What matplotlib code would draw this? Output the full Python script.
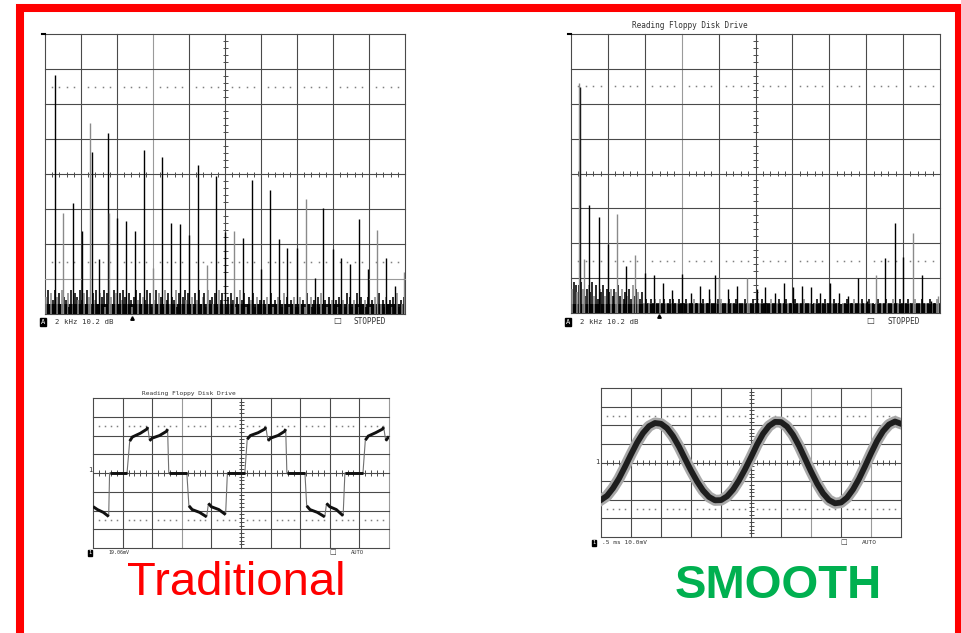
import numpy as np
import matplotlib.pyplot as plt
from matplotlib.patches import Rectangle

W, H = 961, 633

# ---- top left spectrum: harmonic lines (x in divisions, height in divisions)
tl_peak_x = [0.27, 0.51, 0.77, 1.02, 1.26, 1.30, 1.51, 1.76, 1.78, 2.01, 2.26, 2.50,
             2.75, 3.00, 3.26, 3.51, 3.76, 4.00, 4.25, 4.50, 4.75, 5.01, 5.24,
             5.49, 5.74, 5.99, 6.24, 6.49, 6.73, 6.99, 7.24, 7.49, 7.73, 7.99,
             8.23, 8.47, 8.73, 8.98, 9.22, 9.47, 9.72, 9.97]
tl_peak_h = [6.83, 2.88, 3.17, 2.37, 5.46, 4.63, 1.57, 5.17, 2.88, 2.74, 2.66, 2.37,
             4.70, 1.31, 4.49, 2.60, 2.57, 2.27, 4.26, 1.40, 3.95, 2.34, 2.37,
             2.18, 3.83, 1.30, 3.54, 2.14, 1.90, 1.90, 3.30, 1.04, 3.02, 1.86,
             1.60, 1.43, 2.71, 1.30, 2.40, 1.60, 0.80, 1.20]
tl_peak_c = "kgkkgkkkgkkkkgkkkkkgkkgkkkkkkkgkkkkkkkgkkg"
# noise floor, tenths of a division, 200 samples across the screen
tl_noise = ("57364756375462736547" "46375264736572645376" "36475364257463547362"
            "47365274635472635746" "35264735627453627463" "25364253746235462534"
            "34253624354263524352" "25342635243526342534" "34253426352436253425"
            "24352634253425362435")
tl_floor = 0.30

# ---- top right spectrum
tr_peak_x = [0.25, 0.22, 0.36, 0.50, 0.75, 1.00, 1.24, 1.49, 1.74, 2.01, 2.25, 2.50,
             2.75, 3.00, 3.25, 3.49, 3.75, 3.90, 4.02, 4.26, 4.50, 4.76, 5.03,
             5.27, 5.52, 5.77, 6.02, 6.26, 6.51, 6.76, 7.01, 7.26, 7.52, 7.77,
             8.02, 8.27, 8.52, 8.77, 9.01, 9.26, 9.51, 9.76, 9.94]
tr_peak_h = [6.49, 6.60, 1.55, 3.09, 2.74, 1.97, 2.83, 1.34, 1.66, 1.15, 1.09, 0.85,
             0.66, 1.11, 0.56, 0.77, 0.68, 1.10, 1.00, 0.68, 0.77, 1.00, 0.68,
             0.75, 0.58, 0.85, 0.75, 0.77, 0.75, 0.56, 0.85, 0.56, 0.49, 1.00,
             0.33, 1.10, 1.57, 2.58, 1.60, 2.30, 1.10, 0.35, 0.48]
tr_peak_c = "kggkkkgkgkkkkkkkkkgkkgkkkkkkkkkkkkkgkkkgkkg"
tr_noise = ("79868975786958476857" "67576857465748576463" "43343433434334343343"
            "33433343333433343334" "34333433343333433343" "33343333433343334333"
            "34333343330334333433" "33433303343334333433" "34330343334333433343"
            "33433343334333433343")
tr_floor = 0.27

# ---- bottom left scope: square-ish trace, segments of (time div, volts div)
bl_segments = [
    [(0.00, -1.79), (0.15, -1.95), (0.35, -2.10), (0.53, -2.32)],
    [(0.56, 0.0), (1.15, 0.0)],
    [(1.24, 1.70), (1.33, 1.92), (1.60, 2.12), (1.82, 2.34), (1.85, 2.45)],
    [(1.91, 1.72), (2.00, 1.86), (2.25, 2.00), (2.48, 2.22), (2.52, 2.34)],
    [(2.56, 0.0), (3.17, 0.0)],
    [(3.24, -1.75), (3.35, -1.95), (3.60, -2.10), (3.84, -2.34)],
    [(3.90, -1.62), (4.00, -1.80), (4.25, -1.95), (4.48, -2.22)],
    [(4.54, 0.0), (5.13, 0.0)],
    [(5.21, 1.80), (5.32, 2.00), (5.58, 2.15), (5.80, 2.34), (5.84, 2.45)],
    [(5.91, 1.72), (6.00, 1.86), (6.25, 2.00), (6.47, 2.22), (6.51, 2.34)],
    [(6.55, 0.0), (7.16, 0.0)],
    [(7.22, -1.75), (7.33, -1.95), (7.58, -2.10), (7.83, -2.34)],
    [(7.89, -1.62), (8.00, -1.80), (8.22, -1.95), (8.45, -2.28)],
    [(8.51, 0.0), (9.12, 0.0)],
    [(9.20, 1.75), (9.30, 1.97), (9.55, 2.15), (9.78, 2.34), (9.82, 2.45)],
    [(9.89, 1.72), (9.95, 1.85), (10.0, 1.95)],
]

# ---- bottom right scope: sine-like trace, read every 0.2 division
br_t = [0.0, 0.2, 0.4, 0.6, 0.8, 1.0, 1.2, 1.4, 1.6, 1.8, 2.0, 2.2, 2.4, 2.6,
        2.8, 3.0, 3.2, 3.4, 3.6, 3.8, 4.0, 4.2, 4.4, 4.6, 4.8, 5.0, 5.2, 5.4,
        5.6, 5.8, 6.0, 6.2, 6.4, 6.6, 6.8, 7.0, 7.2, 7.4, 7.6, 7.8, 8.0, 8.2,
        8.4, 8.6, 8.8, 9.0, 9.2, 9.4, 9.6, 9.8, 10.0]
br_v = [-2.01, -1.79, -1.38, -0.86, -0.23, 0.43, 1.06, 1.58, 1.95, 2.12, 2.08,
        1.84, 1.41, 0.85, 0.20, -0.43, -1.01, -1.50, -1.85, -2.03, -2.02, -1.82,
        -1.46, -0.96, -0.37, 0.28, 0.96, 1.54, 1.96, 2.18, 2.17, 1.93, 1.49,
        0.90, 0.21, -0.48, -1.12, -1.65, -2.02, -2.19, -2.15, -1.89, -1.45,
        -0.88, -0.21, 0.49, 1.15, 1.68, 2.04, 2.20, 2.08]

GRID = '#4a4a4a'
LIGHT = '#9a9a9a'
GRAY = '#8a8a8a'
MONO = 'DejaVu Sans Mono'


def px_axes(fig, x0, y0, x1, y1):
    return fig.add_axes([x0 / W, 1 - y1 / H, (x1 - x0) / W, (y1 - y0) / H])


def ftext(fig, x, y, s, **kw):
    fig.text(x / W, 1 - y / H, s, **kw)


def scope_grid(ax, ymin, ymax, yc, pxx, pxy, light_cols=(), light_rows=()):
    ax.set_xlim(0, 10)
    ax.set_ylim(ymin, ymax)
    ax.axis('off')
    for i in range(11):
        ax.plot([i, i], [ymin, ymax], color=LIGHT if i in light_cols else GRID,
                lw=0.8, clip_on=False, zorder=1)
    for j in range(ymin, ymax + 1):
        ax.plot([0, 10], [j, j], color=LIGHT if j in light_rows else GRID,
                lw=0.8, clip_on=False, zorder=1)
    minor = [v for v in np.arange(0.2, 10, 0.2) if abs(v - round(v)) > 0.05]
    dy = 2.5 / pxy
    dx = 2.5 / pxx
    ax.vlines(minor, yc - dy, yc + dy, color=GRID, lw=0.7, zorder=1)
    yminor = [v for v in np.arange(ymin + 0.2, ymax, 0.2) if abs(v - round(v)) > 0.05]
    ax.hlines(yminor, 5 - dx, 5 + dx, color=GRID, lw=0.7, zorder=1)
    for yd in (yc - 2.5, yc + 2.5):
        ax.plot(minor, [yd] * len(minor), ls='none', marker='s', ms=1.1,
                mew=0, color='#808080', zorder=1)


def draw_spectrum(ax, px, ph, pc, noise, floor):
    n = len(noise)
    nx = (np.arange(n) + 0.5) * 10 / n
    nh = [int(c) / 10 for c in noise]
    ncol = ['black' if i % 3 else GRAY for i in range(n)]
    ax.fill_between([0, 10], 0, floor, color='#141414', lw=0, zorder=2)
    ax.vlines(nx, 0, nh, colors=ncol, lw=1.15, zorder=2)
    cols = ['black' if c == 'k' else GRAY for c in pc]
    ax.vlines(px, 0, ph, colors=cols, lw=1.0, zorder=3)


fig = plt.figure(figsize=(W / 100, H / 100), dpi=100)

# red frame
fig.patches.append(Rectangle((20 / W, -0.1), 938.5 / W, 1.1 - 8.5 / H,
                             transform=fig.transFigure, fill=False,
                             edgecolor='#ff0000', lw=5.8))

# top left spectrum
ax1 = px_axes(fig, 45, 34, 405, 314)
scope_grid(ax1, 0, 8, 4, 36, 35, light_cols=(3,), light_rows=(1,))
draw_spectrum(ax1, tl_peak_x, tl_peak_h, tl_peak_c, tl_noise, tl_floor)
ax1.plot([-0.08, 0], [8, 8], color='black', lw=1.5, clip_on=False)
ax1.plot([2.42], [-0.1], marker='^', ms=2.5, color='black', clip_on=False)

# top right spectrum
ax2 = px_axes(fig, 571, 34, 940, 313)
scope_grid(ax2, 0, 8, 4, 37, 35, light_cols=(3,))
draw_spectrum(ax2, tr_peak_x, tr_peak_h, tr_peak_c, tr_noise, tr_floor)
ax2.plot([-0.08, 0], [8, 8], color='black', lw=1.5, clip_on=False)
ax2.plot([2.38], [-0.1], marker='^', ms=2.5, color='black', clip_on=False)

# bottom left scope
ax3 = px_axes(fig, 93, 398, 389, 548)
scope_grid(ax3, -4, 4, 0, 29.6, 18.7, light_cols=(3, 10))
all_t = [p[0] for seg in bl_segments for p in seg]
all_v = [p[1] for seg in bl_segments for p in seg]
ax3.plot(all_t, all_v, color='#707070', lw=0.8, zorder=3)
for seg in bl_segments:
    ax3.plot([p[0] for p in seg], [p[1] for p in seg], color='#111111',
             lw=2.1, solid_capstyle='butt', solid_joinstyle='miter', zorder=4)

# bottom right scope
ax4 = px_axes(fig, 601, 388, 901, 537)
scope_grid(ax4, -4, 4, 0, 30, 18.6, light_cols=(7, 9))
ax4.plot(br_t, br_v, color='#a8a8a8', lw=8, zorder=3, solid_joinstyle='round')
ax4.plot(br_t, br_v, color='#1e1e1e', lw=4.2, zorder=4, solid_joinstyle='round')

# screen annotations
tk = dict(family=MONO, color='#333333', va='center')
ftext(fig, 632, 26, 'Reading Floppy Disk Drive', size=5.6, **tk)
ftext(fig, 142, 393, 'Reading Floppy Disk Drive', size=4.5, **tk)

box = dict(boxstyle='square,pad=0.12', fc='black', ec='black')
for xa, xt, xb, xs in ((43, 55, 337, 353), (568, 580, 870, 887)):
    ftext(fig, xa, 322, 'A', size=5, family=MONO, color='white', va='center',
          ha='center', bbox=box)
    ftext(fig, xt, 322, '2 kHz 10.2 dB', size=5.3, **tk)
    ftext(fig, xb, 321, '\u25a1', size=6, family='DejaVu Sans', color='#333333',
          va='center', ha='center')
    ftext(fig, xs, 322, 'STOPPED', size=5.6, **tk)

ftext(fig, 90, 553, '1', size=3.8, family=MONO, color='white', va='center',
      ha='center', bbox=box)
ftext(fig, 108, 553, '19.06mV', size=3.6, **tk)
ftext(fig, 333, 552, '\u25a1', size=5, family='DejaVu Sans', color='#333333',
      va='center', ha='center')
ftext(fig, 351, 553, 'AUTO', size=4.0, **tk)
ftext(fig, 92, 470, '1', size=5, ha='right', **tk)

ftext(fig, 594, 543, '1', size=3.8, family=MONO, color='white', va='center',
      ha='center', bbox=box)
ftext(fig, 602, 543, '.5 ms 10.0mV', size=4.4, **tk)
ftext(fig, 844, 542, '\u25a1', size=5, family='DejaVu Sans', color='#333333',
      va='center', ha='center')
ftext(fig, 862, 543, 'AUTO', size=4.4, **tk)
ftext(fig, 599, 462, '1', size=5, ha='right', **tk)

ftext(fig, 127, 595, 'Traditional', size=34, family='Liberation Sans',
      color='#ff0000', va='baseline')
ftext(fig, 675, 598, 'SMOOTH', size=34, family='Liberation Sans',
      weight='bold', color='#00b050', va='baseline')

fig.savefig('out.png', dpi=100)
